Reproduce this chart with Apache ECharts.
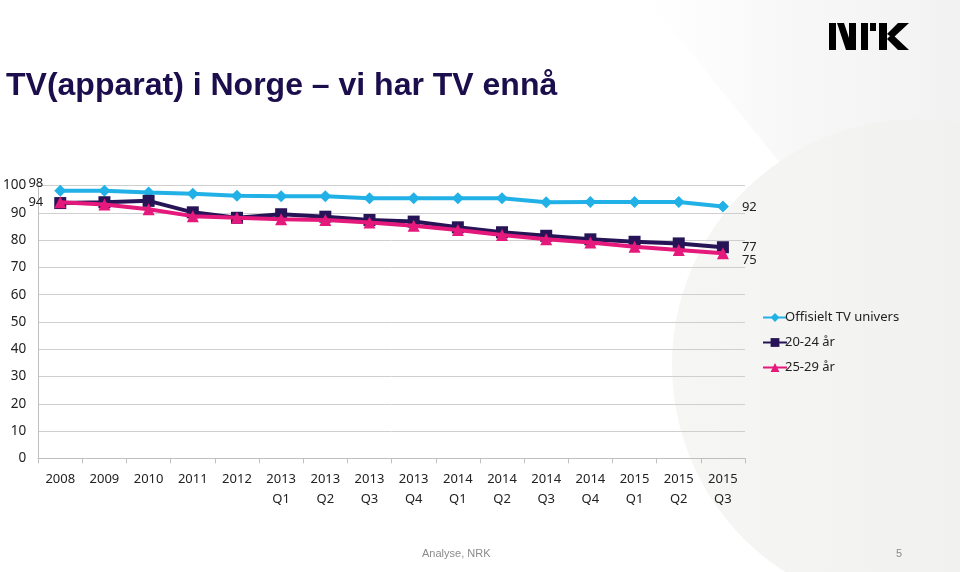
<!DOCTYPE html>
<html>
<head>
<meta charset="utf-8">
<script src="https://cdn.jsdelivr.net/npm/echarts@6/dist/echarts.min.js"></script>
<style>html,body{margin:0;padding:0;background:#fff}#c{width:960px;height:572px}</style>
</head>
<body>
<div id="c"></div>
<script>
const categories = ['2008','2009','2010','2011','2012','2013\nQ1','2013\nQ2','2013\nQ3','2013\nQ4','2014\nQ1','2014\nQ2','2014\nQ3','2014\nQ4','2015\nQ1','2015\nQ2','2015\nQ3'];
const seriesNames = ['Offisielt TV univers','20-24 år','25-29 år'];
const offisielt = [98.1, 98.1, 97.5, 97.0, 96.3, 96.1, 96.1, 95.4, 95.4, 95.4, 95.4, 93.9, 94.0, 94.0, 94.0, 92.3];
const aar2024 = [93.6, 93.9, 94.4, 90.2, 88.2, 89.5, 88.6, 87.4, 86.8, 84.7, 82.9, 81.6, 80.3, 79.4, 78.8, 77.4];
const aar2529 = [93.9, 93.1, 91.3, 88.8, 88.2, 87.7, 87.4, 86.5, 85.3, 83.7, 81.9, 80.3, 79.1, 77.6, 76.4, 75.2];
const yTicks = {min: 0, max: 100, interval: 10};

const FONT = 'Noto Sans';
const chart = echarts.init(document.getElementById('c'), null, {renderer: 'canvas'});

function withLabels(values, firstOffset, lastOffset) {
  return values.map((v, i) => {
    const item = {value: v};
    if (i === 0 && firstOffset) {
      item.label = {show: true, position: 'left', distance: 11, offset: firstOffset};
    } else if (i === values.length - 1) {
      item.label = {show: true, position: 'right', distance: 13, offset: lastOffset};
    }
    return item;
  });
}

const labelStyle = {
  show: false, fontFamily: FONT, fontSize: 13, color: '#222',
  formatter: p => Math.round(p.value)
};

const logo = [
  [[0,0],[7,0],[7,27],[0,27]],
  [[8,0],[15,0],[24,27],[17,27]],
  [[20,0],[27,0],[27,27],[20,27]],
  [[32,0],[39,0],[39,27],[32,27]],
  [[41,0],[47,0],[47,8],[41,8]],
  [[50,0],[58,0],[58,27],[50,27]],
  [[58,11],[69,0],[80,0],[64,15]],
  [[58,16],[63,11],[80,27],[69,27]]
];

chart.setOption({
  backgroundColor: '#ffffff',
  animation: false,
  title: {
    text: 'TV(apparat) i Norge – vi har TV ennå',
    left: 1, top: 65,
    textStyle: {fontFamily: 'Liberation Sans', fontWeight: 'bold', fontSize: 32, color: '#1c0d4c'}
  },
  graphic: [
    {type: 'polygon', z: -10, silent: true,
     shape: {points: [[648,0],[960,0],[960,385]]},
     style: {fill: new echarts.graphic.LinearGradient(0,0,1,0,[{offset:0,color:'#ffffff'},{offset:0.5,color:'#f7f7f7'},{offset:1,color:'#f2f2f2'}])}},
    {type: 'circle', z: -9, silent: true,
     shape: {cx: 918, cy: 365, r: 246},
     style: {fill: new echarts.graphic.LinearGradient(0,0,1,0,[{offset:0,color:'#f6f6f5'},{offset:0.6,color:'#f1f1ef'},{offset:1,color:'#f5f5f5'}])}},
    {type: 'group', left: 829, top: 23, children: logo.map(pts => ({type: 'polygon', shape: {points: pts}, style: {fill: '#000'}}))},
    {type: 'text', left: 422, top: 548, style: {text: 'Analyse, NRK', fontFamily: 'Liberation Sans', fontSize: 11, fill: '#8c8c8c'}},
    {type: 'text', left: 896, top: 548, style: {text: '5', fontFamily: 'Liberation Sans', fontSize: 11, fill: '#8c8c8c'}}
  ],
  legend: {
    orient: 'vertical', left: 757, top: 306, itemGap: 12,
    itemWidth: 24, itemHeight: 11,
    textStyle: {fontFamily: FONT, fontSize: 13, color: '#222', padding: [0,0,0,-7]},
    data: seriesNames
  },
  grid: {left: 37, right: 215, top: 185.6, bottom: 113.7, containLabel: false},
  xAxis: {
    type: 'category', data: categories, boundaryGap: true,
    axisLine: {lineStyle: {color: '#bfbfbf', width: 1}},
    axisTick: {show: true, length: 5, lineStyle: {color: '#bfbfbf'}},
    axisLabel: {fontFamily: FONT, fontSize: 13, color: '#222', margin: 11, lineHeight: 20, interval: 0}
  },
  yAxis: {
    type: 'value', min: yTicks.min, max: yTicks.max, interval: yTicks.interval,
    axisLine: {show: true, lineStyle: {color: '#bfbfbf'}},
    axisTick: {show: false},
    splitLine: {lineStyle: {color: '#cfcfcf', width: 1}},
    axisLabel: {fontFamily: FONT, fontSize: 13.5, color: '#222', margin: 12}
  },
  series: [
    {name: seriesNames[0], type: 'line', data: withLabels(offisielt, [0, -7], [0, 1]),
     color: '#22b1e6', lineStyle: {width: 4, color: '#22b1e6'},
     symbol: 'diamond', symbolSize: 12, itemStyle: {color: '#22b1e6'}, label: labelStyle, z: 3},
    {name: seriesNames[1], type: 'line', data: withLabels(aar2024, [0, -1], [0, 0]),
     color: '#261456', lineStyle: {width: 4, color: '#261456'},
     symbol: 'rect', symbolSize: 12, itemStyle: {color: '#261456'}, label: labelStyle, z: 3},
    {name: seriesNames[2], type: 'line', data: withLabels(aar2529, null, [0, 7]),
     color: '#e5197c', lineStyle: {width: 4, color: '#e5197c'},
     symbol: 'triangle', symbolSize: 12, itemStyle: {color: '#e5197c'}, label: labelStyle, z: 4}
  ]
});
</script>
</body>
</html>
